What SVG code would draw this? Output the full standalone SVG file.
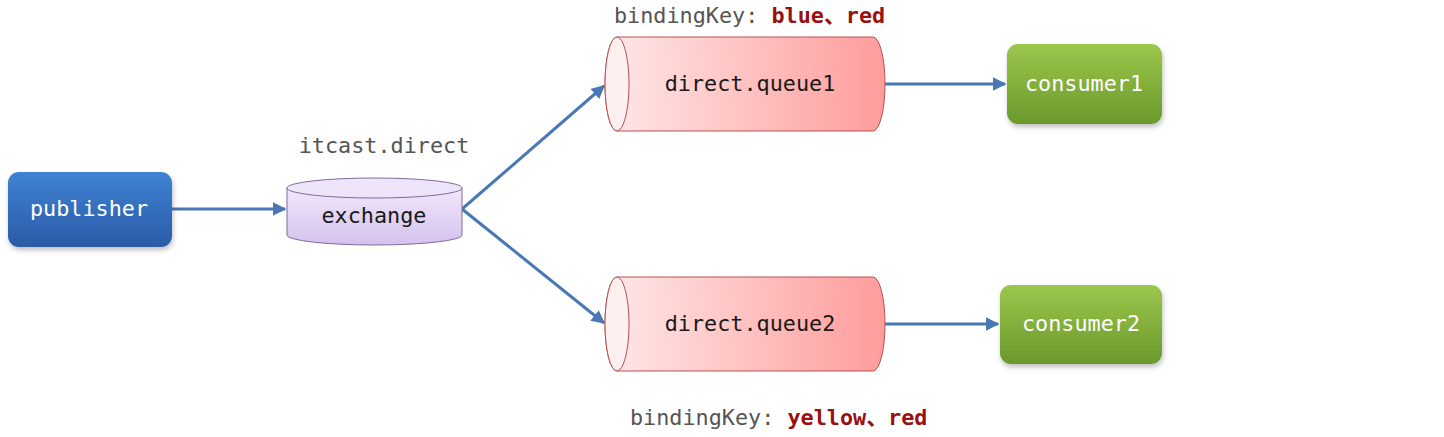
<svg xmlns="http://www.w3.org/2000/svg" width="1444" height="437" viewBox="0 0 1444 437">
<style>
text{font-family:"DejaVu Sans Mono","Liberation Mono","Noto Sans CJK SC",monospace;font-size:21.8px}
.w{fill:#ffffff;text-anchor:middle}
.d{fill:#1a1a1a;text-anchor:middle}
.lbl{fill:#555555}
.key{fill:#9a0f0f;font-weight:bold}
.conn{stroke:#4a78b4;stroke-width:3;fill:none;marker-end:url(#ah)}
</style>
<defs>
<linearGradient id="gBlue" x1="0" y1="0" x2="0" y2="1"><stop offset="0" stop-color="#3f82d4"/><stop offset="1" stop-color="#2a5ba6"/></linearGradient>
<linearGradient id="gGreen" x1="0" y1="0" x2="0" y2="1"><stop offset="0" stop-color="#9cc64c"/><stop offset="1" stop-color="#6a992c"/></linearGradient>
<linearGradient id="gPurple" x1="0" y1="0" x2="0" y2="1"><stop offset="0" stop-color="#f1e8fb"/><stop offset="1" stop-color="#d5c1ee"/></linearGradient>
<linearGradient id="gRed" x1="0" y1="0" x2="1" y2="0"><stop offset="0" stop-color="#ffe8e8"/><stop offset="1" stop-color="#ff9c9c"/></linearGradient>
<filter id="sh" x="-10%" y="-10%" width="125%" height="135%"><feDropShadow dx="1" dy="3" stdDeviation="2.5" flood-color="#000" flood-opacity="0.25"/></filter>
<marker id="ah" viewBox="0 0 10 10" refX="9" refY="5" markerWidth="4.5" markerHeight="4.5" orient="auto" markerUnits="strokeWidth"><path d="M0,0 L10,5 L0,10 Z" fill="#4a78b4"/></marker>
</defs>

<g id="connectors">
<line class="conn" x1="172" y1="209" x2="285" y2="209"/>
<line class="conn" x1="462" y1="209" x2="604" y2="86"/>
<line class="conn" x1="462" y1="209" x2="604" y2="323"/>
<line class="conn" x1="885" y1="84" x2="1005" y2="84"/>
<line class="conn" x1="885" y1="324" x2="998" y2="324"/>
</g>

<g id="publisher">
<rect x="8" y="172" width="164" height="75" rx="11" fill="url(#gBlue)" filter="url(#sh)"/>
<text class="w" x="89" y="216">publisher</text>
</g>

<g id="exchange">
<path d="M287,188 L287,235 A87.5,10 0 0 0 462,235 L462,188 Z" fill="url(#gPurple)" stroke="#7e6d9c" stroke-width="1"/>
<ellipse cx="374.5" cy="188" rx="87.5" ry="10" fill="#efe5fa" stroke="#7e6d9c" stroke-width="1"/>
<text class="d" x="374" y="223">exchange</text>
</g>
<text class="lbl" x="384" y="153" text-anchor="middle">itcast.direct</text>

<g id="queue1">
<path d="M617,37 L873,37 A12,47 0 0 1 873,131 L617,131 A12,47 0 0 1 617,37 Z" fill="url(#gRed)" stroke="#b85050" stroke-width="1"/>
<ellipse cx="617" cy="84" rx="12" ry="47" fill="#fff0f0" stroke="#b85050" stroke-width="1"/>
<text class="d" x="750" y="91">direct.queue1</text>
</g>

<g id="queue2">
<path d="M617,277 L873,277 A12,47 0 0 1 873,371 L617,371 A12,47 0 0 1 617,277 Z" fill="url(#gRed)" stroke="#b85050" stroke-width="1"/>
<ellipse cx="617" cy="324" rx="12" ry="47" fill="#fff0f0" stroke="#b85050" stroke-width="1"/>
<text class="d" x="750" y="331">direct.queue2</text>
</g>

<g id="consumer1">
<rect x="1007" y="44" width="155" height="80" rx="11" fill="url(#gGreen)" filter="url(#sh)"/>
<text class="w" x="1084" y="91">consumer1</text>
</g>

<g id="consumer2">
<rect x="1000" y="285" width="162" height="79" rx="11" fill="url(#gGreen)" filter="url(#sh)"/>
<text class="w" x="1081" y="331">consumer2</text>
</g>

<text x="614" y="23"><tspan class="lbl">bindingKey: </tspan><tspan class="key">blue、red</tspan></text>
<text x="630" y="425"><tspan class="lbl">bindingKey: </tspan><tspan class="key">yellow、red</tspan></text>
</svg>
